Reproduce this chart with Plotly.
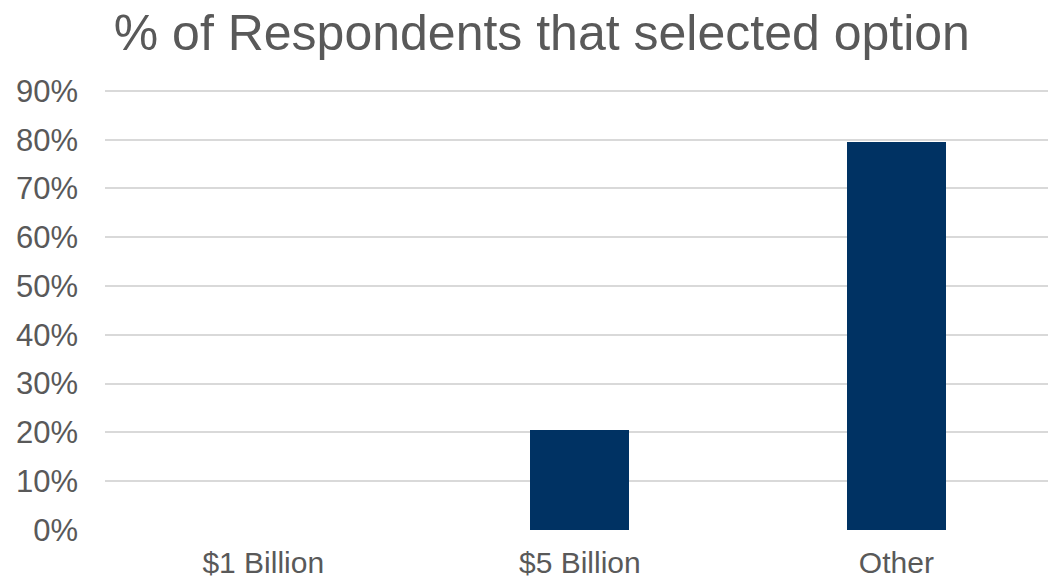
import plotly.graph_objects as go

# Survey answers and the share of respondents choosing each (%)
options = ["$1 Billion", "$5 Billion", "Other"]
share_pct = [0.0, 20.5, 79.5]
y_ticks = [0, 10, 20, 30, 40, 50, 60, 70, 80, 90]
y_tick_text = [f"{v}%" for v in y_ticks]

TEXT_GREY = "#595959"
GRID_GREY = "#d9d9d9"
BAR_NAVY = "#003263"
FONT = "Liberation Sans, Arial, sans-serif"

fig = go.Figure(
    go.Bar(
        x=list(range(len(options))),
        y=share_pct,
        width=0.3125,
        marker=dict(color=BAR_NAVY, line=dict(width=0)),
        hovertemplate="%{customdata}: %{y}%<extra></extra>",
        customdata=options,
    )
)

fig.update_layout(
    width=1048,
    height=583,
    margin=dict(l=105, r=0, t=86, b=53, autoexpand=False),
    paper_bgcolor="white",
    plot_bgcolor="white",
    showlegend=False,
    font=dict(family=FONT, color=TEXT_GREY),
    title=dict(
        text="% of Respondents that selected option",
        font=dict(family=FONT, size=50, color=TEXT_GREY),
        x=0.517,
        xanchor="center",
        xref="container",
        y=0.945,
        yanchor="middle",
        yref="container",
    ),
    xaxis=dict(
        range=[-0.5, 2.479],
        tickmode="array",
        tickvals=list(range(len(options))),
        ticktext=options,
        tickfont=dict(size=30, color=TEXT_GREY),
        showgrid=False,
        zeroline=False,
        showline=False,
        ticks="",
        ticklabelstandoff=12,
        automargin=False,
        fixedrange=True,
    ),
    yaxis=dict(
        range=[0, 91],
        tickmode="array",
        tickvals=y_ticks,
        ticktext=y_tick_text,
        tickfont=dict(size=31, color=TEXT_GREY),
        showgrid=True,
        gridcolor=GRID_GREY,
        gridwidth=1.5,
        zeroline=False,
        showline=False,
        ticks="",
        ticklabelstandoff=26,
        automargin=False,
        fixedrange=True,
    ),
    bargap=0,
)

fig.write_html("out.html", config={"displayModeBar": False})
